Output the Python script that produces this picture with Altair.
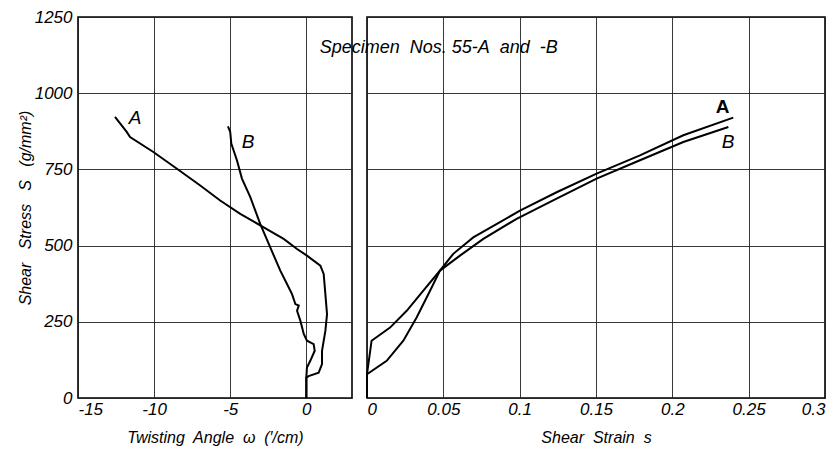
import altair as alt
import pandas as pd

FONT = "Liberation Sans"
NB = "\u00a0"

# ---- Left panel: twisting angle (1/cm) vs shear stress (g/mm^2)
left_a_w = [-12.57, -11.8, -11.58, -10.05, -8.5, -6.97, -5.66, -4.34, -2.8, -1.49, -0.61, 0.04, 0.92, 1.14, 1.25, 1.36, 1.25, 1.03, 1.03, 0.81, 0.15, 0.0, 0.0]
left_a_s = [922, 873, 856, 807, 752, 697, 648, 604, 560, 522, 489, 467, 434, 407, 341, 275, 220, 155, 111, 83, 72, 67, 0]
left_b_w = [-5.15, -5.0, -4.93, -4.56, -4.23, -3.68, -3.03, -2.37, -1.71, -1.27, -0.94, -0.72, -0.5, -0.61, -0.39, -0.17, 0.04, 0.48, 0.55, 0.26, 0.04, 0.0, 0.0]
left_b_s = [891, 873, 835, 780, 720, 659, 571, 494, 418, 374, 341, 308, 303, 286, 253, 210, 188, 177, 155, 122, 100, 67, 0]

# ---- Right panel: shear strain vs shear stress
right_a_e = [0.0, 0.0, 0.0129, 0.0238, 0.0325, 0.0413, 0.0478, 0.0565, 0.0696, 0.0871, 0.1002, 0.1242, 0.1504, 0.1788, 0.2072, 0.2399]
right_a_s = [0, 78, 122, 188, 264, 352, 418, 473, 527, 577, 615, 675, 736, 796, 862, 920]
right_b_e = [0.0, 0.0, 0.003, 0.0151, 0.026, 0.0369, 0.0478, 0.0609, 0.0762, 0.098, 0.1242, 0.1504, 0.1788, 0.2072, 0.2367]
right_b_s = [0, 78, 188, 231, 286, 352, 418, 467, 522, 588, 654, 720, 780, 840, 889]

# ---- annotations
left_lab_text = ["A", "B"]
left_lab_w = [-11.25, -3.82]
left_lab_s = [918, 839]
right_lab_text = ["A", "B"]
right_lab_e = [0.233, 0.2365]
right_lab_s = [954, 839]
note_text = [f"Specimen{NB} Nos. 55-A{NB} and{NB} -B"]
note_e = [0.047]
note_s = [1148]

left_x_ticks = [-15, -10, -5, 0]
right_x_ticks = [0, 0.05, 0.1, 0.15, 0.2, 0.25, 0.3]
y_ticks = [0, 250, 500, 750, 1000, 1250]

left_title = f"Twisting{NB} Angle{NB} ω{NB} (′/cm)"
right_title = f"Shear{NB} Strain{NB} s"
y_title = f"Shear{NB}{NB} Stress{NB}{NB} S{NB}{NB} (g/mm²)"


def frame(xs, ys, name):
    return pd.DataFrame({"x": xs, "y": ys, "spec": name, "i": range(len(xs))})


df_left = pd.concat([frame(left_a_w, left_a_s, "A"), frame(left_b_w, left_b_s, "B")])
df_right = pd.concat([frame(right_a_e, right_a_s, "A"), frame(right_b_e, right_b_s, "B")])

ysc = alt.Scale(domain=[0, 1250], nice=False, zero=False)
lxsc = alt.Scale(domain=[-15, 3], nice=False, zero=False)
rxsc = alt.Scale(domain=[0, 0.3], nice=False, zero=False)

lab_common = dict(labelFont=FONT, labelFontSize=17, labelFontStyle="italic", labelColor="black",
                  titleFont=FONT, titleFontSize=16, titleFontStyle="italic", titleFontWeight="normal",
                  titleColor="black", grid=True, gridColor="#222222", gridWidth=0.9,
                  ticks=False, domain=False)

left_line = alt.Chart(df_left).mark_line(color="black", strokeWidth=2).encode(
    x=alt.X("x:Q", scale=lxsc, axis=alt.Axis(values=left_x_ticks, title=left_title,
                                              labelExpr="replace(datum.label, '−', '-')",
                                              labelPadding=3, titlePadding=12, **lab_common)),
    y=alt.Y("y:Q", scale=ysc, axis=alt.Axis(values=y_ticks, title=y_title, format="d",
                                            labelPadding=6, titlePadding=1, **lab_common)),
    detail="spec:N",
    order="i:Q",
)

left_lab = alt.Chart(pd.DataFrame({"t": left_lab_text, "x": left_lab_w, "y": left_lab_s})).mark_text(
    font=FONT, fontSize=19, fontStyle="italic", color="black"
).encode(x=alt.X("x:Q", scale=lxsc), y=alt.Y("y:Q", scale=ysc), text="t:N")

left = alt.layer(left_line, left_lab).properties(width=274, height=381)

right_line = alt.Chart(df_right).mark_line(color="black", strokeWidth=2).encode(
    x=alt.X("x:Q", scale=rxsc, axis=alt.Axis(values=right_x_ticks, format="~g", title=right_title,
                                              labelPadding=3, titlePadding=12, **lab_common)),
    y=alt.Y("y:Q", scale=ysc, axis=alt.Axis(values=y_ticks, labels=False, title=None, grid=True,
                                            gridColor="#222222", gridWidth=0.9, ticks=False, domain=False)),
    detail="spec:N",
    order="i:Q",
)

right_lab_df = pd.DataFrame({"t": right_lab_text, "x": right_lab_e, "y": right_lab_s})
right_lab_a = alt.Chart(right_lab_df).transform_filter(alt.datum.t == "A").mark_text(
    font=FONT, fontSize=19, fontWeight="bold", color="black"
).encode(x=alt.X("x:Q", scale=rxsc), y=alt.Y("y:Q", scale=ysc), text="t:N")
right_lab_b = alt.Chart(right_lab_df).transform_filter(alt.datum.t == "B").mark_text(
    font=FONT, fontSize=19, fontStyle="italic", color="black"
).encode(x=alt.X("x:Q", scale=rxsc), y=alt.Y("y:Q", scale=ysc), text="t:N")

note = alt.Chart(pd.DataFrame({"t": note_text, "x": note_e, "y": note_s})).mark_text(
    font=FONT, fontSize=18, fontStyle="italic", color="black"
).encode(x=alt.X("x:Q", scale=rxsc), y=alt.Y("y:Q", scale=ysc), text="t:N")

right = alt.layer(right_line, right_lab_a, right_lab_b, note).properties(width=458, height=381)

chart = alt.hconcat(left, right, spacing=15, bounds="flush").properties(
    padding={"left": 16, "top": 7, "right": 0, "bottom": 0},
    background="white",
).configure_view(stroke="black", strokeWidth=1.6)

chart.save("out.html", embed_options={"renderer": "svg", "actions": False})
